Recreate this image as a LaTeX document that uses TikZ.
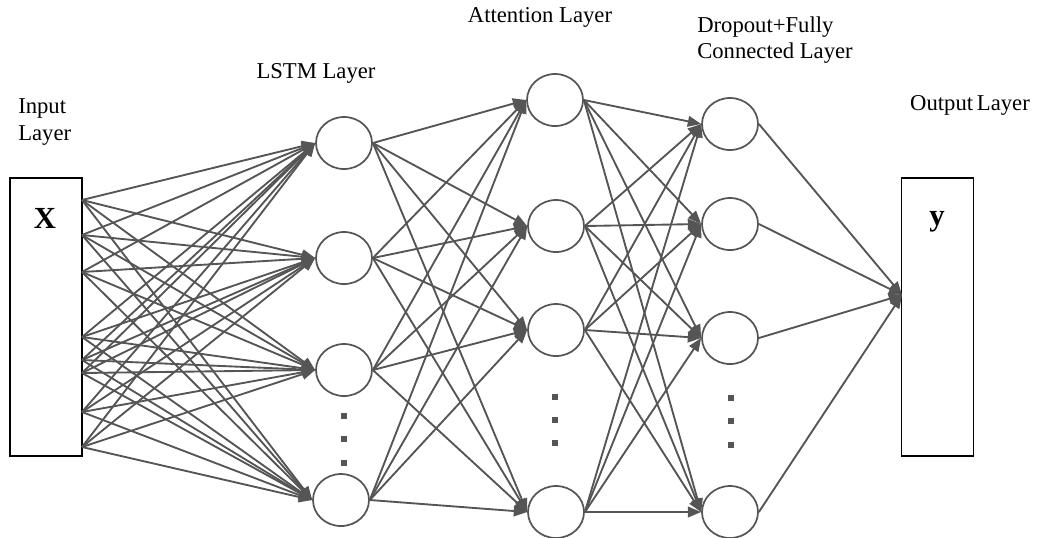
\documentclass[tikz,border=0pt]{standalone}
\usepackage{fontspec}
\setmainfont{Liberation Serif}
\usetikzlibrary{arrows.meta,shapes.geometric}
\definecolor{linegray}{HTML}{555555}
\tikzset{
  neuron/.style={draw=linegray, line width=1.3pt, ellipse, minimum width=42pt, minimum height=39pt, inner sep=0pt},
  layerbox/.style={draw=black, line width=1.4pt, minimum width=54pt, minimum height=208.5pt, inner sep=0pt},
  link/.style={draw=linegray, line width=1.4pt, -{Triangle[length=10pt,width=8pt]}},
  lbl/.style={font=\fontsize{17}{20}\selectfont, align=left, inner sep=0pt},
  vdots/.style={fill=linegray, minimum size=3.8pt, inner sep=0pt}
}
\begin{document}
\begin{tikzpicture}[x=0.75pt, y=-0.75pt]
\useasboundingbox (0,0) rectangle (1037,537);
% boxes for input and output
\node[layerbox] (in) at (46,317) {};
\node[layerbox] (out) at (937.5,317) {};
\node[font=\fontsize{23}{24}\selectfont\bfseries] (xl) at (45,218) {X};
\node[font=\fontsize{23}{24}\selectfont\bfseries] (yl) at (937,222) {y};
% layer titles
\node[lbl, anchor=west] (tin) at (18,122) {Input\\Layer};
\node[lbl] (tlstm) at (316,73) {LSTM Layer};
\node[lbl] (tatt) at (540,17) {Attention Layer};
\node[lbl, anchor=west] (tdrop) at (697,40) {Dropout+Fully\\Connected Layer};
\node[lbl] (tout) at (970,105) {Output\,Layer};
% lstm layer
\node[neuron] (l1) at (344,143) {};
\node[neuron] (l2) at (344,258) {};
\node[neuron] (l3) at (344,370) {};
\node[neuron] (l4) at (341,500) {};
% attention layer
\node[neuron] (a1) at (555,100) {};
\node[neuron] (a2) at (556,226) {};
\node[neuron] (a3) at (556,330) {};
\node[neuron] (a4) at (556,512) {};
% dropout + fully connected layer
\node[neuron] (d1) at (730,124) {};
\node[neuron] (d2) at (730,224) {};
\node[neuron] (d3) at (730,338) {};
\node[neuron] (d4) at (730,512) {};
% dots
\node[vdots] (lv1) at (344,416) {};
\node[vdots] (lv2) at (344,439) {};
\node[vdots] (lv3) at (344,463) {};
\node[vdots] (av1) at (555,397) {};
\node[vdots] (av2) at (555,420) {};
\node[vdots] (av3) at (555,443) {};
\node[vdots] (dv1) at (731,398) {};
\node[vdots] (dv2) at (731,421) {};
\node[vdots] (dv3) at (731,445) {};
% start points on the input box
\coordinate (x1) at (82,200);
\coordinate (x2) at (82,235);
\coordinate (x3) at (82,272);
\coordinate (x4) at (82,337);
\coordinate (x5) at (82,360);
\coordinate (x6) at (82,373);
\coordinate (x7) at (82,412);
\coordinate (x8) at (82,447);
\coordinate (yin) at (902,295);
% input -> lstm
\draw[link] (x1) -- (l1.west); \draw[link] (x1) -- (l2.west); \draw[link] (x1) -- (l3.west); \draw[link] (x1) -- (l4.west);
\draw[link] (x2) -- (l1.west); \draw[link] (x2) -- (l2.west); \draw[link] (x2) -- (l3.west); \draw[link] (x2) -- (l4.west);
\draw[link] (x3) -- (l1.west); \draw[link] (x3) -- (l2.west); \draw[link] (x3) -- (l3.west); \draw[link] (x3) -- (l4.west);
\draw[link] (x4) -- (l1.west); \draw[link] (x4) -- (l2.west); \draw[link] (x4) -- (l3.west); \draw[link] (x4) -- (l4.west);
\draw[link] (x5) -- (l1.west); \draw[link] (x5) -- (l2.west); \draw[link] (x5) -- (l3.west); \draw[link] (x5) -- (l4.west);
\draw[link] (x6) -- (l1.west); \draw[link] (x6) -- (l2.west); \draw[link] (x6) -- (l3.west); \draw[link] (x6) -- (l4.west);
\draw[link] (x7) -- (l1.west); \draw[link] (x7) -- (l2.west); \draw[link] (x7) -- (l3.west); \draw[link] (x7) -- (l4.west);
\draw[link] (x8) -- (l1.west); \draw[link] (x8) -- (l2.west); \draw[link] (x8) -- (l3.west); \draw[link] (x8) -- (l4.west);
% lstm -> attention
\draw[link] (l1.east) -- (a1.west); \draw[link] (l1.east) -- (a2.west); \draw[link] (l1.east) -- (a3.west); \draw[link] (l1.east) -- (a4.west);
\draw[link] (l2.east) -- (a1.west); \draw[link] (l2.east) -- (a2.west); \draw[link] (l2.east) -- (a3.west); \draw[link] (l2.east) -- (a4.west);
\draw[link] (l3.east) -- (a1.west); \draw[link] (l3.east) -- (a2.west); \draw[link] (l3.east) -- (a3.west); \draw[link] (l3.east) -- (a4.west);
\draw[link] (l4.east) -- (a1.west); \draw[link] (l4.east) -- (a2.west); \draw[link] (l4.east) -- (a3.west); \draw[link] (l4.east) -- (a4.west);
% attention -> dropout
\draw[link] (a1.east) -- (d1.west); \draw[link] (a1.east) -- (d2.west); \draw[link] (a1.east) -- (d3.west); \draw[link] (a1.east) -- (d4.west);
\draw[link] (a2.east) -- (d1.west); \draw[link] (a2.east) -- (d2.west); \draw[link] (a2.east) -- (d3.west); \draw[link] (a2.east) -- (d4.west);
\draw[link] (a3.east) -- (d1.west); \draw[link] (a3.east) -- (d2.west); \draw[link] (a3.east) -- (d3.west); \draw[link] (a3.east) -- (d4.west);
\draw[link] (a4.east) -- (d1.west); \draw[link] (a4.east) -- (d2.west); \draw[link] (a4.east) -- (d3.west); \draw[link] (a4.east) -- (d4.west);
% dropout -> output
\draw[link] (d1.east) -- (yin);
\draw[link] (d2.east) -- (yin);
\draw[link] (d3.east) -- (yin);
\draw[link] (d4.east) -- (yin);
\end{tikzpicture}
\end{document}
